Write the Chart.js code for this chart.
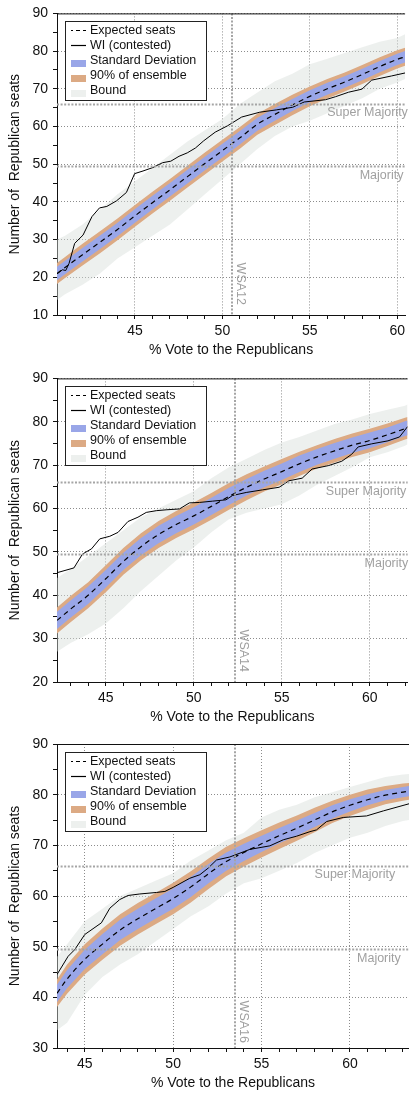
<!DOCTYPE html>
<html>
<head>
<meta charset="utf-8">
<script src="https://cdn.jsdelivr.net/npm/chart.js@4.4.1/dist/chart.umd.min.js"></script>
<style>
  html, body { margin: 0; padding: 0; background: #fff; overflow: hidden; }
  canvas { position: absolute; left: 0; }
</style>
</head>
<body>
<canvas id="panel12" width="409" height="365" style="top:0px"></canvas>
<canvas id="panel14" width="409" height="365" style="top:365px"></canvas>
<canvas id="panel16" width="409" height="364" style="top:730px"></canvas>
<script>
// ---------- datos comunes ----------
var superMayoria = 66;
var mayoria = 49.5;
var nombresLeyenda = ['Expected seats', 'WI (contested)', 'Standard Deviation', '90% of ensemble', 'Bound'];

// ---------- WSA12 ----------
var rangoX12 = [40.54, 60.45];
var rangoY12 = [10, 90];
var etiquetasX12 = [45, 50, 55, 60];
var etiquetasY12 = [10, 20, 30, 40, 50, 60, 70, 80, 90];
var plan12 = 50.56;
var voto12 = [40.54, 41, 42, 43, 44, 45, 46, 47, 48, 49, 50, 51, 52, 53, 54, 55, 56, 57, 58, 59, 60, 60.45];
var esperado12 = [21.0, 22.6, 26.0, 29.3, 32.7, 36.3, 39.8, 43.2, 46.7, 50.2, 53.6, 57.0, 60.6, 63.2, 65.7, 68.0, 70.0, 71.8, 73.8, 75.9, 77.8, 78.5];
var sdSup12 = [22.8, 24.4, 27.8, 31.1, 34.5, 38.1, 41.6, 45.0, 48.5, 52.0, 55.4, 58.8, 62.3, 64.9, 67.3, 69.6, 71.6, 73.3, 75.3, 77.4, 79.3, 80.0];
var sdInf12 = [19.2, 20.8, 24.2, 27.5, 30.9, 34.5, 38.0, 41.4, 44.9, 48.4, 51.8, 55.2, 58.9, 61.5, 64.1, 66.4, 68.4, 70.3, 72.3, 74.4, 76.3, 77.0];
var p90Sup12 = [23.8, 25.4, 28.9, 32.2, 35.6, 39.2, 42.7, 46.1, 49.6, 53.1, 56.5, 59.9, 63.4, 66.0, 68.4, 70.6, 72.6, 74.3, 76.3, 78.4, 80.2, 80.9];
var p90Inf12 = [18.2, 19.8, 23.1, 26.4, 29.8, 33.4, 36.9, 40.3, 43.8, 47.3, 50.7, 54.1, 57.8, 60.4, 63.0, 65.4, 67.4, 69.3, 71.3, 73.4, 75.4, 76.1];
var limSup12 = [30, 31, 34, 38, 42, 45.5, 49, 52.5, 56, 59, 62, 66, 69, 72, 74, 76.5, 78, 79.5, 81, 82.5, 83.5, 84.5];
var limInf12 = [14, 15.5, 18, 21, 25, 28, 31, 34, 38, 42, 46, 50, 54, 57.5, 60, 61.5, 63.5, 65.5, 67.5, 70, 71.7, 72.6];
var wiVoto12 = [40.54, 40.85, 41.04, 41.23, 41.55, 42.03, 42.54, 42.97, 43.39, 43.95, 44.51, 44.98, 45.46, 46.02, 46.58, 47.05, 47.52, 47.99, 48.46, 48.93, 49.59, 50.3, 51.1, 52.14, 53.08, 54.02, 54.68, 55.9, 56.47, 57.22, 57.98, 58.54, 59.67, 60.45];
var wiEscanos12 = [20.9, 22.0, 21.8, 23.7, 29.0, 31.2, 36.1, 38.4, 38.8, 40.3, 42.5, 47.5, 48.2, 49.1, 50.4, 50.8, 52.1, 53.0, 54.3, 56.2, 58.5, 60.2, 62.5, 63.8, 64.4, 65.1, 66.5, 67.1, 67.9, 69.1, 69.9, 72.3, 73.4, 74.2];

// ---------- WSA14 ----------
var rangoX14 = [42.23, 62.15];
var rangoY14 = [20, 90];
var etiquetasX14 = [45, 50, 55, 60];
var etiquetasY14 = [20, 30, 40, 50, 60, 70, 80, 90];
var plan14 = 52.32;
var voto14 = [42.23, 43, 44, 45, 46, 47, 48, 49, 50, 51, 52, 53, 54, 55, 56, 57, 58, 59, 60, 61, 62, 62.15];
var esperado14 = [34.2, 36.8, 40.0, 43.8, 47.8, 51.2, 54.0, 56.3, 58.3, 60.5, 62.8, 64.9, 66.8, 68.5, 70.3, 71.9, 73.3, 74.6, 75.7, 77.0, 78.4, 78.6];
var sdSup14 = [36.2, 38.8, 42.0, 45.8, 49.8, 53.2, 56.0, 58.3, 60.3, 62.5, 64.8, 66.8, 68.7, 70.4, 72.2, 73.7, 75.1, 76.4, 77.5, 78.7, 80.1, 80.3];
var sdInf14 = [32.2, 34.8, 38.0, 41.8, 45.8, 49.2, 52.0, 54.3, 56.3, 58.5, 60.8, 63.0, 64.9, 66.6, 68.4, 70.1, 71.5, 72.8, 73.9, 75.3, 76.7, 76.9];
var p90Sup14 = [37.2, 39.8, 43.0, 46.9, 50.9, 54.3, 57.1, 59.4, 61.4, 63.6, 65.9, 67.9, 69.7, 71.4, 73.1, 74.6, 76.0, 77.3, 78.4, 79.6, 80.9, 81.1];
var p90Inf14 = [31.2, 33.8, 37.0, 40.7, 44.7, 48.1, 50.9, 53.2, 55.2, 57.4, 59.7, 61.9, 63.9, 65.6, 67.5, 69.2, 70.6, 71.9, 73.0, 74.4, 75.9, 76.1];
var limSup14 = [44, 46, 49, 52, 55, 58, 60, 62, 64, 67, 69.5, 71.5, 73.5, 75.2, 76.5, 78, 79.5, 80.5, 81.8, 82.8, 83.7, 84];
var limInf14 = [27, 29, 31, 33.5, 37, 41, 44.5, 48, 51, 54.5, 57.5, 59, 60, 61, 63, 65.5, 67.5, 69.5, 71.8, 73, 74.5, 74.8];
var wiVoto14 = [42.23, 43.19, 43.68, 44.19, 44.66, 45.23, 45.7, 46.26, 46.83, 47.3, 47.87, 48.43, 49.19, 49.75, 50.32, 51.07, 51.83, 52.2, 52.98, 53.91, 54.85, 55.41, 56.16, 56.72, 57.66, 58.41, 58.97, 59.34, 60.09, 61.03, 61.69, 62.15];
var wiEscanos14 = [45.2, 46.3, 49.5, 50.7, 53.0, 53.6, 54.5, 57.0, 58.0, 59.1, 59.5, 59.7, 59.9, 61.3, 61.4, 61.7, 62.0, 63.0, 63.7, 64.3, 64.9, 66.4, 67.0, 69.1, 69.9, 70.9, 72.5, 74.2, 74.9, 75.6, 76.5, 78.9];

// ---------- WSA16 ----------
var rangoX16 = [43.43, 63.34];
var rangoY16 = [30, 90];
var etiquetasX16 = [45, 50, 55, 60];
var etiquetasY16 = [30, 40, 50, 60, 70, 80, 90];
var plan16 = 53.5;
var voto16 = [43.43, 44, 45, 46, 47, 48, 49, 50, 51, 52, 53, 54, 55, 56, 57, 58, 59, 60, 61, 62, 63, 63.34];
var esperado16 = [40.8, 43.6, 47.5, 50.5, 53.3, 55.5, 57.5, 59.5, 61.8, 64.4, 66.8, 68.6, 70.3, 71.9, 73.4, 75.0, 76.6, 77.9, 79.0, 79.9, 80.5, 80.7];
var sdSup16 = [42.5, 45.4, 49.4, 52.5, 55.3, 57.5, 59.5, 61.5, 63.8, 66.3, 68.6, 70.3, 71.9, 73.4, 74.9, 76.4, 77.9, 79.1, 80.1, 80.9, 81.5, 81.7];
var sdInf16 = [39.1, 41.8, 45.6, 48.5, 51.3, 53.5, 55.5, 57.5, 59.8, 62.5, 65.0, 66.9, 68.7, 70.4, 71.9, 73.6, 75.3, 76.7, 77.9, 78.9, 79.5, 79.7];
var p90Sup16 = [43.5, 46.5, 50.5, 53.6, 56.4, 58.6, 60.6, 62.6, 64.9, 67.4, 69.7, 71.4, 73.0, 74.5, 75.9, 77.4, 78.8, 80.0, 81.0, 81.7, 82.2, 82.3];
var p90Inf16 = [38.1, 40.7, 44.5, 47.4, 50.2, 52.4, 54.4, 56.4, 58.7, 61.4, 63.9, 65.8, 67.6, 69.3, 70.9, 72.6, 74.4, 75.8, 77.0, 78.1, 78.8, 79.0];
var limSup16 = [48, 50.5, 55, 57.5, 60, 61.5, 63, 64.5, 67, 69, 71, 72.5, 75.5, 77, 78, 79.5, 80.5, 81.5, 82.5, 83.5, 84, 84.1];
var limInf16 = [33.5, 35, 40.5, 44, 46.5, 48.5, 51, 53.5, 56, 58, 60.5, 62.5, 63.5, 65, 66.5, 68.5, 70, 71.5, 72.5, 73.8, 74.8, 75];
var wiVoto16 = [43.43, 44.06, 44.43, 45.0, 45.94, 46.42, 46.98, 47.45, 48.11, 49.06, 49.53, 50.0, 50.94, 51.51, 51.98, 52.45, 53.2, 54.34, 55.47, 56.23, 56.98, 57.74, 58.11, 58.68, 59.62, 60.94, 61.89, 63.34];
var wiEscanos16 = [44.5, 48.1, 49.4, 52.4, 54.7, 57.6, 59.3, 60.1, 60.4, 60.7, 60.9, 61.7, 63.5, 64.2, 65.5, 67.1, 67.7, 69.2, 69.9, 71.1, 71.8, 72.7, 73.05, 74.7, 75.5, 75.8, 76.8, 78.2];

// ---------- estilos ----------
var fuente = '"Liberation Sans", Arial, Helvetica, sans-serif';
var colorSD = '#99a6e8';
var color90 = '#dcaa84';
var colorLimite = 'rgba(214,221,217,0.45)';
var colorRef = '#a5a5a5';

function puntos(xs, ys) {
    return xs.map(function (x, i) { return { x: x, y: ys[i] }; });
}

function banda(xs, ys, relleno, orden) {
    return {
        data: puntos(xs, ys),
        borderWidth: 0,
        borderColor: 'rgba(0,0,0,0)',
        backgroundColor: relleno || 'rgba(0,0,0,0)',
        fill: relleno ? '-1' : false,
        pointRadius: 0,
        order: orden
    };
}

// lineas de referencia (mayoria, super mayoria, plan) y sus textos
var referencias = {
    id: 'referencias',
    afterDatasetsDraw: function (chart, args, opts) {
        var ctx = chart.ctx, a = chart.chartArea;
        var sx = chart.scales.x, sy = chart.scales.y;
        ctx.save();
        ctx.strokeStyle = colorRef;
        ctx.lineWidth = 2;
        ctx.setLineDash([2, 1.6]);
        [superMayoria, mayoria].forEach(function (v) {
            var py = Math.round(sy.getPixelForValue(v)) + 0.5;
            ctx.beginPath(); ctx.moveTo(a.left, py); ctx.lineTo(a.right, py); ctx.stroke();
        });
        var px = Math.round(sx.getPixelForValue(opts.plan));
        ctx.beginPath(); ctx.moveTo(px, a.top); ctx.lineTo(px, a.bottom); ctx.stroke();
        ctx.setLineDash([]);

        // borde superior
        ctx.strokeStyle = '#111';
        ctx.lineWidth = 1;
        ctx.beginPath(); ctx.moveTo(a.left, a.top + 0.5); ctx.lineTo(a.right, a.top + 0.5); ctx.stroke();

        ctx.fillStyle = '#a0a0a0';
        ctx.font = '12.5px ' + fuente;
        ctx.textBaseline = 'middle';
        ctx.textAlign = 'left';
        ctx.fillText('Super Majority', sx.getPixelForValue(opts.xSuper), sy.getPixelForValue(superMayoria) + 9);
        ctx.fillText('Majority', sx.getPixelForValue(opts.xMayoria), sy.getPixelForValue(mayoria) + 9);

        ctx.translate(px + 8, a.bottom - opts.finNombre);
        ctx.rotate(Math.PI / 2);
        ctx.textAlign = 'right';
        ctx.fillText(opts.nombre, 0, 0);
        ctx.restore();
    }
};

// leyenda dentro del area con marco
var leyenda = {
    id: 'leyendaCaja',
    afterDraw: function (chart) {
        var ctx = chart.ctx, a = chart.chartArea;
        var x0 = Math.round(a.left) + 8, y0 = Math.round(a.top) + 8;
        ctx.save();
        ctx.fillStyle = '#fff';
        ctx.fillRect(x0, y0, 141, 79);
        ctx.strokeStyle = '#222';
        ctx.lineWidth = 1;
        ctx.strokeRect(x0 + 0.5, y0 + 0.5, 141, 79);
        ctx.font = '12.5px ' + fuente;
        ctx.textBaseline = 'middle';
        ctx.textAlign = 'left';
        nombresLeyenda.forEach(function (txt, i) {
            var cy = y0 + 9.5 + i * 15;
            if (i < 2) {
                ctx.strokeStyle = '#000';
                ctx.lineWidth = 1.2;
                ctx.setLineDash(i === 0 ? [4, 3] : []);
                ctx.lineDashOffset = i === 0 ? 2 : 0;
                ctx.beginPath(); ctx.moveTo(x0 + 6, cy); ctx.lineTo(x0 + 21, cy); ctx.stroke();
                ctx.setLineDash([]);
            } else {
                ctx.fillStyle = [colorSD, color90, '#edf0ee'][i - 2];
                ctx.fillRect(x0 + 6, cy - 0.5, 15, 7);
            }
            ctx.fillStyle = '#111';
            ctx.fillText(txt, x0 + 25, cy);
        });
        ctx.restore();
    }
};

function crearPanel(id, p) {
    var ctx = document.getElementById(id).getContext('2d');
    var altoEjeX = p.altoEjeX;

    return new Chart(ctx, {
        type: 'line',
        data: {
            datasets: [
                banda(p.voto, p.limInf, null, 3),
                banda(p.voto, p.limSup, colorLimite, 3),
                banda(p.voto, p.p90Inf, null, 2),
                banda(p.voto, p.p90Sup, color90, 2),
                banda(p.voto, p.sdInf, null, 1),
                banda(p.voto, p.sdSup, colorSD, 1),
                {
                    data: puntos(p.voto, p.esperado),
                    borderColor: '#000',
                    borderWidth: 1.2,
                    borderDash: [5, 4],
                    pointRadius: 0,
                    fill: false,
                    cubicInterpolationMode: 'monotone',
                    order: 0
                },
                {
                    data: puntos(p.wiVoto, p.wiEscanos),
                    borderColor: '#000',
                    borderWidth: 1,
                    pointRadius: 0,
                    fill: false,
                    tension: 0,
                    order: 0
                }
            ]
        },
        options: {
            responsive: false,
            animation: false,
            layout: { padding: { top: p.arriba, right: 0, bottom: 0, left: 0 } },
            scales: {
                x: {
                    type: 'linear',
                    min: p.rangoX[0],
                    max: p.rangoX[1],
                    afterBuildTicks: function (scale) {
                        var t = [];
                        for (var v = Math.ceil(p.rangoX[0]); v <= p.rangoX[1]; v++) t.push({ value: v });
                        scale.ticks = t;
                    },
                    afterFit: function (scale) { scale.height = altoEjeX; },
                    ticks: {
                        autoSkip: false,
                        maxRotation: 0,
                        padding: 4,
                        color: '#111',
                        font: { family: fuente, size: 14 },
                        callback: function (value) {
                            return p.etiquetasX.indexOf(value) >= 0 ? String(value) : '';
                        }
                    },
                    grid: {
                        color: function (c) {
                            return c.tick && c.tick.value % 5 === 0 ? '#8c8c8c' : 'rgba(0,0,0,0)';
                        },
                        lineWidth: 1,
                        tickColor: '#111',
                        tickLength: 4
                    },
                    border: { display: true, color: '#111', width: 1, dash: [1, 2] },
                    title: {
                        display: true,
                        text: '% Vote to the Republicans',
                        color: '#111',
                        font: { family: fuente, size: 14 },
                        padding: { top: 0, bottom: altoEjeX - 35 - 8.4 }
                    }
                },
                y: {
                    type: 'linear',
                    min: p.rangoY[0],
                    max: p.rangoY[1],
                    afterBuildTicks: function (scale) {
                        var t = [];
                        for (var v = p.rangoY[0]; v <= p.rangoY[1]; v += 5) t.push({ value: v });
                        scale.ticks = t;
                    },
                    afterFit: function (scale) { scale.width = 57; },
                    ticks: {
                        autoSkip: false,
                        padding: 5,
                        color: '#111',
                        font: { family: fuente, size: 14 },
                        callback: function (value) {
                            return p.etiquetasY.indexOf(value) >= 0 ? String(value) : '';
                        }
                    },
                    grid: {
                        color: function (c) {
                            return c.tick && c.tick.value % 10 === 0 ? '#8c8c8c' : 'rgba(0,0,0,0)';
                        },
                        lineWidth: 1,
                        tickColor: '#111',
                        tickLength: 4
                    },
                    border: { display: true, color: '#111', width: 1, dash: [1, 2] },
                    title: {
                        display: true,
                        text: 'Number of  Republican seats',
                        color: '#111',
                        font: { family: fuente, size: 14 },
                        padding: { top: 6.6, bottom: 0 }
                    }
                }
            },
            plugins: {
                legend: { display: false },
                tooltip: { enabled: false },
                referencias: {
                    plan: p.plan,
                    nombre: p.nombre,
                    xSuper: p.xSuper,
                    xMayoria: p.xMayoria,
                    finNombre: p.finNombre
                }
            }
        },
        plugins: [referencias, leyenda]
    });
}

crearPanel('panel12', {
    rangoX: rangoX12, rangoY: rangoY12, etiquetasX: etiquetasX12, etiquetasY: etiquetasY12,
    voto: voto12, esperado: esperado12, sdSup: sdSup12, sdInf: sdInf12,
    p90Sup: p90Sup12, p90Inf: p90Inf12, limSup: limSup12, limInf: limInf12,
    wiVoto: wiVoto12, wiEscanos: wiEscanos12,
    plan: plan12, nombre: 'WSA12', xSuper: 56.0, xMayoria: 57.85, finNombre: 10,
    arriba: 10, altoEjeX: 50
});
crearPanel('panel14', {
    rangoX: rangoX14, rangoY: rangoY14, etiquetasX: etiquetasX14, etiquetasY: etiquetasY14,
    voto: voto14, esperado: esperado14, sdSup: sdSup14, sdInf: sdInf14,
    p90Sup: p90Sup14, p90Inf: p90Inf14, limSup: limSup14, limInf: limInf14,
    wiVoto: wiVoto14, wiEscanos: wiEscanos14,
    plan: plan14, nombre: 'WSA14', xSuper: 57.5, xMayoria: 59.7, finNombre: 10,
    arriba: 12, altoEjeX: 48
});
crearPanel('panel16', {
    rangoX: rangoX16, rangoY: rangoY16, etiquetasX: etiquetasX16, etiquetasY: etiquetasY16,
    voto: voto16, esperado: esperado16, sdSup: sdSup16, sdInf: sdInf16,
    p90Sup: p90Sup16, p90Inf: p90Inf16, limSup: limSup16, limInf: limInf16,
    wiVoto: wiVoto16, wiEscanos: wiEscanos16,
    plan: plan16, nombre: 'WSA16', xSuper: 58.0, xMayoria: 60.4, finNombre: 5,
    arriba: 14, altoEjeX: 46
});
</script>
</body>
</html>
